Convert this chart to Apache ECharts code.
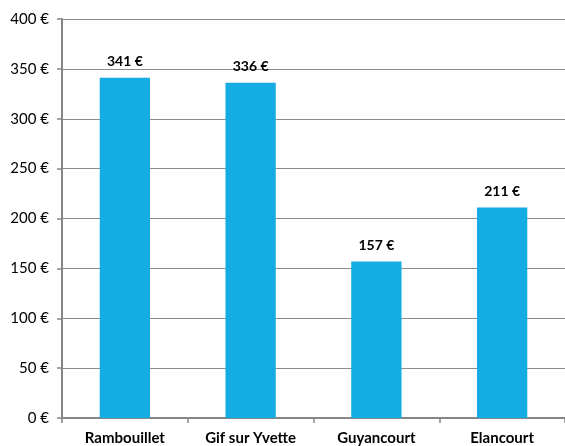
<!DOCTYPE html>
<html>
<head>
<meta charset="utf-8">
<script src="https://cdn.jsdelivr.net/npm/echarts@6/dist/echarts.min.js"></script>
<style>
  html, body { margin: 0; padding: 0; background: #fff; }
  #chart { width: 565px; height: 446px; }
</style>
</head>
<body>
<div id="chart"></div>
<script>
  // communes et dépenses (en €)
  var communes = ['Rambouillet', 'Gif sur Yvette', 'Guyancourt', 'Elancourt']
  var depenses = [341, 336, 157, 211]
  var yTicks = [0, 50, 100, 150, 200, 250, 300, 350, 400]

  var chart = echarts.init(document.getElementById('chart'))
  chart.setOption({
    animation: false,
    grid: { left: 62, top: 19, width: 508, height: 399 },
    xAxis: {
      type: 'category',
      data: communes,
      axisLine: { lineStyle: { color: '#868686', width: 2 } },
      axisTick: { show: true, length: 5, lineStyle: { color: '#868686', width: 1.5 } },
      axisLabel: {
        color: '#000',
        fontFamily: 'Lato',
        fontWeight: 'bold',
        fontSize: 15,
        margin: 13
      }
    },
    yAxis: {
      type: 'value',
      min: yTicks[0],
      max: yTicks[yTicks.length - 1],
      interval: 50,
      axisLine: { show: true, lineStyle: { color: '#868686', width: 2 } },
      axisTick: { show: true, length: 5, lineStyle: { color: '#868686', width: 1.5 } },
      splitLine: { lineStyle: { color: '#8c8c8c', width: 1 } },
      axisLabel: {
        color: '#000',
        fontFamily: 'Lato',
        fontSize: 15,
        margin: 13,
        formatter: function (v) { return v + ' €' }
      }
    },
    series: [{
      type: 'bar',
      data: depenses,
      barWidth: '40%',
      itemStyle: { color: '#15ace3' },
      label: {
        show: true,
        position: 'top',
        distance: 9,
        color: '#000',
        fontFamily: 'Lato',
        fontWeight: 'bold',
        fontSize: 14,
        formatter: function (p) { return p.value + ' €' }
      }
    }]
  })
</script>
</body>
</html>
